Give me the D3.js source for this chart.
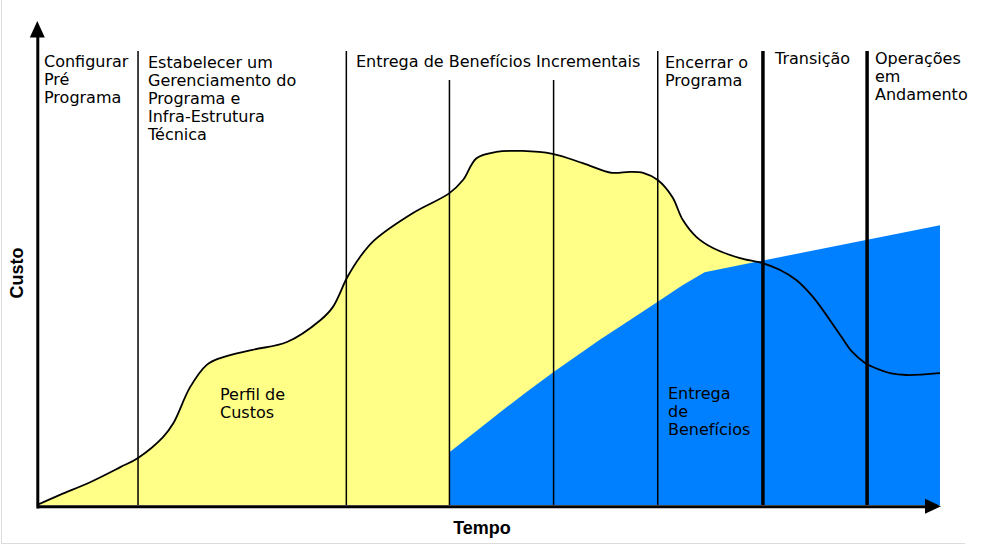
<!DOCTYPE html>
<html>
<head>
<meta charset="utf-8">
<script src="https://cdn.jsdelivr.net/npm/d3@7/dist/d3.min.js"></script>
<style>
  html, body { margin: 0; padding: 0; background: #fff; }
  svg { display: block; }
</style>
</head>
<body>
<svg id="chart" width="986" height="550"></svg>
<script>
// ---- data (time units: phase width = 1; cost units: 0-100) ----
const phaseBounds = [0.97, 2.97, 3.96, 4.96, 5.96, 6.97, 7.97];

const costT = [0, 0.22, 0.51, 0.80, 0.97, 1.21, 1.31, 1.47, 1.63, 1.76, 2.07, 2.40, 2.72, 2.84, 2.98, 3.10, 3.24, 3.61, 3.96, 4.09, 4.22, 4.41, 4.66, 4.95, 5.24, 5.52, 5.69, 5.82, 5.96, 6.10, 6.20, 6.33, 6.49, 6.75, 6.96, 7.13, 7.29, 7.45, 7.71, 7.83, 7.95, 8.02, 8.19, 8.35, 8.67];
const costV = [0, 2.1, 4.7, 7.8, 9.7, 14.0, 16.9, 24.3, 28.9, 30.3, 32.0, 33.6, 38.1, 40.8, 47.0, 51.1, 54.6, 60.2, 64.3, 67.0, 71.5, 72.8, 73.0, 72.4, 70.5, 68.5, 68.7, 68.5, 67.0, 63.5, 58.8, 55.3, 53.0, 50.9, 49.9, 48.5, 46.4, 42.9, 35.1, 31.5, 29.3, 28.5, 27.2, 26.8, 27.2];

const benefitT = [3.96, 4.21, 4.45, 4.70, 4.96, 5.18, 5.40, 5.69, 5.96, 6.19, 6.41, 8.67];
const benefitV = [10.9, 15.1, 19.2, 23.3, 27.4, 30.7, 34.0, 38.1, 41.9, 45.2, 48.0, 57.7];

const phaseLabels = [
  ["Configurar", "Pré", "Programa"],
  ["Estabelecer um", "Gerenciamento do", "Programa e", "Infra-Estrutura", "Técnica"],
  ["Entrega de Benefícios Incrementais"],
  ["Encerrar o", "Programa"],
  ["Transição"],
  ["Operações", "em", "Andamento"]
];
const costLabel = ["Perfil de", "Custos"];
const benefitLabel = ["Entrega", "de", "Benefícios"];
const xTitle = "Tempo";
const yTitle = "Custo";

// ---- layout ----
const svg = d3.select("#chart");
const x = d3.scaleLinear().domain([0, 8.67]).range([37, 940]);
const y = d3.scaleLinear().domain([0, 100]).range([505, 20]);

const costData = costT.map((t, i) => ({t, v: costV[i]}));
const benefitData = benefitT.map((t, i) => ({t, v: benefitV[i]}));

// light frame
svg.append("line").attr("x1", 1.5).attr("x2", 1.5).attr("y1", 0).attr("y2", 543.5)
  .attr("stroke", "#dcdcdc").attr("stroke-width", 1);
svg.append("line").attr("x1", 1).attr("x2", 965).attr("y1", 543.5).attr("y2", 543.5)
  .attr("stroke", "#dcdcdc").attr("stroke-width", 1);

const curve = d3.curveCatmullRom.alpha(0.5);

// cost area
svg.append("path").datum(costData)
  .attr("fill", "#ffff88")
  .attr("d", d3.area().curve(curve).x(d => x(d.t)).y0(y(0)).y1(d => y(d.v)));

// benefit area
svg.append("path").datum(benefitData)
  .attr("fill", "#0080ff")
  .attr("d", d3.area().curve(d3.curveLinear).x(d => x(d.t)).y0(y(0)).y1(d => y(d.v)));

// cost line
svg.append("path").datum(costData)
  .attr("fill", "none").attr("stroke", "#000").attr("stroke-width", 1.8)
  .attr("d", d3.line().curve(curve).x(d => x(d.t)).y(d => y(d.v)));

// phase lines
svg.selectAll("line.phase").data(phaseBounds).enter().append("line")
  .attr("class", "phase")
  .attr("x1", d => x(d)).attr("x2", d => x(d))
  .attr("y1", (d, i) => (i === 2 || i === 3) ? 80 : 51)
  .attr("y2", y(0))
  .attr("stroke", "#000")
  .attr("stroke-width", (d, i) => i >= 5 ? 3.5 : 1.5);

// axes (no ticks, domain line only)
const xAxisScale = x.copy().range([x(0), 928]);
const yAxisScale = y.copy().range([y(0) + 3, 34]);
const gx = svg.append("g").attr("transform", `translate(0,${y(0) + 1.3})`)
  .call(d3.axisBottom(xAxisScale).tickValues([]).tickSizeOuter(0));
const gy = svg.append("g").attr("transform", `translate(${x(0) + 0.3},0)`)
  .call(d3.axisLeft(yAxisScale).tickValues([]).tickSizeOuter(0));
[gx, gy].forEach(g => g.select(".domain").attr("stroke", "#000").attr("stroke-width", 3));

// arrow heads
svg.append("path").attr("d", d3.line()([[x(0) + 0.3, 21], [x(0) - 7.2, 37.5], [x(0) + 7.8, 37.5]]) + "Z")
  .attr("fill", "#000");
svg.append("path").attr("d", d3.line()([[941, y(0) + 1.3], [925, y(0) - 6.2], [925, y(0) + 8.8]]) + "Z")
  .attr("fill", "#000");

// text
const font = "'DejaVu Sans', Verdana, sans-serif";
function block(lines, px, py, lh, size) {
  const t = svg.append("text").attr("x", px).attr("y", py)
    .attr("font-family", font).attr("font-size", size).attr("fill", "#000");
  lines.forEach((s, i) => t.append("tspan").attr("x", px).attr("y", py + i * lh).text(s));
  return t;
}
const labelPos = [
  [44, 67], [148, 68], [356, 67], [665, 68], [775, 64], [875, 64]
];
phaseLabels.forEach((lines, i) => block(lines, labelPos[i][0], labelPos[i][1], 18, 16));
block(costLabel, 220, 400, 18, 16);
block(benefitLabel, 668, 399, 18, 16);

svg.append("text").attr("x", 482).attr("y", 534).attr("text-anchor", "middle")
  .attr("font-family", "'Liberation Sans', Arial, sans-serif").attr("font-weight", "bold")
  .attr("font-size", 18).text(xTitle);
svg.append("text").attr("transform", "translate(23,273) rotate(-90)").attr("text-anchor", "middle")
  .attr("font-family", "'Liberation Sans', Arial, sans-serif").attr("font-weight", "bold")
  .attr("font-size", 18).text(yTitle);
</script>
</body>
</html>
